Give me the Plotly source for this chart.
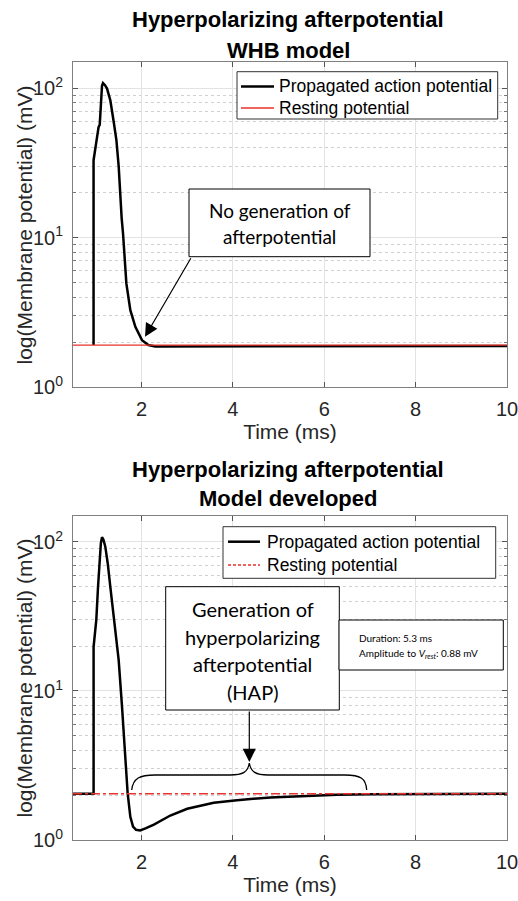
import plotly.graph_objects as go
import math

# ---------------- data ----------------
# WHB model (top)
t_whb = [0.95, 0.95, 0.975, 1.01, 1.06, 1.085, 1.09, 1.113, 1.135, 1.157, 1.2, 1.245,
         1.317, 1.39, 1.45, 1.5, 1.53, 1.565, 1.595, 1.668, 1.755, 1.865, 2.01, 2.15,
         2.3, 2.8, 4.0, 6.0, 8.0, 10.0]
v_whb = [1.91, 33, 37, 45, 55, 57, 62, 92, 104, 108.5, 105, 99.6,
         83, 60, 45, 30, 20, 13.5, 10.7, 4.94, 3.27, 2.53, 2.06, 1.91,
         1.87, 1.87, 1.88, 1.88, 1.88, 1.88]
rest_whb_t = [0.5, 10.0]
rest_whb_v = [1.91, 1.91]

# Developed model (bottom)
t_dev = [0.5, 0.951, 0.951, 0.973, 1.01, 1.048, 1.083, 1.11, 1.135, 1.165, 1.207, 1.26,
         1.317, 1.39, 1.45, 1.5, 1.573, 1.646, 1.683, 1.696, 1.755, 1.814, 1.88, 1.97,
         2.1, 2.27, 2.63, 3.0, 3.58, 4.09, 4.82, 5.55, 6.28, 7.0, 8.0, 10.0]
v_dev = [2.04, 2.04, 19.8, 23.1, 30, 50, 75.7, 98, 107.5, 104, 93, 72,
         50, 33, 22, 16.1, 7.85, 3.82, 2.53, 2.06, 1.43, 1.23, 1.17, 1.16,
         1.2, 1.27, 1.46, 1.62, 1.78, 1.85, 1.93, 1.98, 2.01, 2.03, 2.04, 2.04]
rest_dev_t = [0.5, 10.0]
rest_dev_v = [2.04, 2.04]

x_ticks = [2, 4, 6, 8, 10]
y_ticks = [1, 10, 100]
y_ticktext = ["10<sup>0</sup>", "10<sup>1</sup>", "10<sup>2</sup>"]
y_minor = [2, 3, 4, 5, 6, 7, 8, 9, 20, 30, 40, 50, 60, 70, 80, 90]

series_names = ["Propagated action potential", "Resting potential"]

# ---------------- layout geometry ----------------
W, H = 518, 901
ML, MR, MT, MB = 73, 11, 62, 61
PW = W - ML - MR
PH = H - MT - MB


def px(x):
    return (x - ML) / PW


def py(y):
    return (H - MB - y) / PH


FONT = "Liberation Sans"
CAL = "Lato"
RED = "#e8322b"

fig = go.Figure()

fig.add_trace(go.Scatter(x=t_whb, y=v_whb, mode="lines", name=series_names[0], showlegend=False,
                         line=dict(color="black", width=2.5), xaxis="x", yaxis="y"))
fig.add_trace(go.Scatter(x=rest_whb_t, y=rest_whb_v, mode="lines", name=series_names[1], showlegend=False,
                         line=dict(color=RED, width=1.2), xaxis="x", yaxis="y"))

fig.add_trace(go.Scatter(x=t_dev, y=v_dev, mode="lines", name=series_names[0], showlegend=False,
                         line=dict(color="black", width=2.5), xaxis="x2", yaxis="y2"))
fig.add_trace(go.Scatter(x=rest_dev_t, y=rest_dev_v, mode="lines", name=series_names[1], showlegend=False,
                         line=dict(color=RED, width=1.5, dash="dashdot"), xaxis="x2", yaxis="y2"))

top_dom = [py(387), 1.0]
bot_dom = [0.0, py(515.7)]

axis_common = dict(
    range=[0.5, 10], tickvals=x_ticks, showgrid=True, gridcolor="#e3e3e3", gridwidth=1,
    ticks="inside", ticklen=5, tickcolor="#555", mirror="allticks", showline=True,
    linecolor="#7f7f7f", linewidth=1, zeroline=False,
    tickfont=dict(size=20, family=FONT, color="#262626"),
    ticklabelstandoff=4, ticklabeloverflow="allow",
    title=dict(text="Time (ms)", font=dict(size=21, family=FONT, color="#262626"), standoff=4),
)
yaxis_common = dict(
    type="log", range=[0, math.log10(150)], tickvals=y_ticks, ticktext=y_ticktext,
    showgrid=True, gridcolor="#e3e3e3", gridwidth=1,
    ticks="inside", ticklen=5, tickcolor="#555", mirror="allticks", showline=True,
    linecolor="#7f7f7f", linewidth=1, zeroline=False,
    tickfont=dict(size=20, family=FONT, color="#262626"),
    ticklabelstandoff=5, ticklabeloverflow="allow",
    minor=dict(tickvals=y_minor, showgrid=True, griddash="dot", gridcolor="#d0d0d0",
               ticks="inside", ticklen=3, tickcolor="#777"),
)

fig.update_layout(
    width=W, height=H,
    margin=dict(l=ML, r=MR, t=MT, b=MB, autoexpand=False),
    paper_bgcolor="white", plot_bgcolor="white",
    font=dict(family=FONT, color="black"),
    xaxis=dict(domain=[0, 1], anchor="y", **axis_common),
    yaxis=dict(domain=top_dom, anchor="x", **yaxis_common),
    xaxis2=dict(domain=[0, 1], anchor="y2", **axis_common),
    yaxis2=dict(domain=bot_dom, anchor="x2", **yaxis_common),
    showlegend=False,
)

shapes = []
annotations = []

# titles
for txt, yy in [("Hyperpolarizing afterpotential", 19), ("WHB model", 50),
                ("Hyperpolarizing afterpotential", 469), ("Model developed", 499)]:
    annotations.append(dict(text="<b>%s</b>" % txt, x=px(288), y=py(yy), xref="paper", yref="paper",
                            showarrow=False, xanchor="center", yanchor="middle",
                            font=dict(size=22, family=FONT, color="black")))

# y axis titles
for yy in [225, 678]:
    annotations.append(dict(text="log(Membrane potential) (mV)", x=px(23.5), y=py(yy), xref="paper",
                            yref="paper", showarrow=False, textangle=-90, xanchor="center",
                            yanchor="middle", font=dict(size=21, family=FONT, color="#262626")))

# legends (drawn manually for exact spacing)
def legend_box(x0, x1, y0, y1, sx0, sx1, tx, rows, red_dash, red_w):
    shapes.append(dict(type="rect", xref="paper", yref="paper", x0=px(x0), x1=px(x1), y0=py(y1), y1=py(y0),
                       line=dict(color="#333", width=1), fillcolor="white", layer="above"))
    shapes.append(dict(type="line", xref="paper", yref="paper", x0=px(sx0), x1=px(sx1), y0=py(rows[0]),
                       y1=py(rows[0]), line=dict(color="black", width=2.5), layer="above"))
    shapes.append(dict(type="line", xref="paper", yref="paper", x0=px(sx0), x1=px(sx1), y0=py(rows[1]),
                       y1=py(rows[1]), line=dict(color=RED, width=red_w, dash=red_dash), layer="above"))
    for name, yy in zip(series_names, rows):
        annotations.append(dict(text=name, x=px(tx), y=py(yy), xref="paper", yref="paper", showarrow=False,
                                xanchor="left", yanchor="middle",
                                font=dict(size=17.5, family=FONT, color="black")))


legend_box(237, 497.7, 71.7, 119, 241, 274, 276.5, [86.5, 108], "solid", 1.5)
legend_box(223, 495.7, 526.7, 578.3, 228, 260, 264.5, [541.7, 565], "3px,2px", 1.3)

# top annotation box
shapes.append(dict(type="rect", xref="paper", yref="paper", x0=px(189), x1=px(370), y0=py(256.7), y1=py(189),
                   line=dict(color="black", width=1), fillcolor="white", layer="above"))
for txt, yy in [("No generation of", 211), ("afterpotential", 237)]:
    annotations.append(dict(text=txt, x=px(279.5), y=py(yy), xref="paper", yref="paper", showarrow=False,
                            xanchor="center", yanchor="middle", font=dict(size=19, family=CAL, color="black")))
annotations.append(dict(text="", x=px(145), y=py(336.7), xref="paper", yref="paper", showarrow=True,
                        ax=191.7 - 145, ay=256.7 - 336.7, arrowhead=2, arrowsize=2.2, arrowwidth=1.2,
                        arrowcolor="black"))

# bottom annotation box
shapes.append(dict(type="rect", xref="paper", yref="paper", x0=px(165.7), x1=px(339.3), y0=py(710), y1=py(586.7),
                   line=dict(color="black", width=1), fillcolor="white", layer="above"))
for txt, yy in [("Generation of", 609), ("hyperpolarizing", 637), ("afterpotential", 664), ("(HAP)", 692)]:
    annotations.append(dict(text=txt, x=px(252.5), y=py(yy), xref="paper", yref="paper", showarrow=False,
                            xanchor="center", yanchor="middle", font=dict(size=20, family=CAL, color="black")))
annotations.append(dict(text="", x=px(249.3), y=py(762), xref="paper", yref="paper", showarrow=True,
                        ax=0, ay=710 - 762, arrowhead=2, arrowsize=2.2, arrowwidth=1.2, arrowcolor="black"))

# brace
pts = [("M", [(131.7, 790)]),
       ("C", [(133, 778), (140, 775), (155, 775)]),
       ("L", [(230, 775)]),
       ("C", [(243, 775), (248, 772), (249.3, 763)]),
       ("C", [(250.7, 772), (256, 775), (268, 775)]),
       ("L", [(345, 775)]),
       ("C", [(360, 775), (366, 778), (366.7, 790)])]
path = " ".join(cmd + " " + " ".join("%.5f,%.5f" % (px(a), py(b)) for a, b in p) for cmd, p in pts)
shapes.append(dict(type="path", xref="paper", yref="paper", path=path,
                   line=dict(color="black", width=1.3), layer="above"))

# small info box
shapes.append(dict(type="rect", xref="paper", yref="paper", x0=px(339), x1=px(503.3), y0=py(670), y1=py(620),
                   line=dict(color="black", width=1), fillcolor="white", layer="above"))
annotations.append(dict(text="Duration: 5.3 ms", x=px(356.5), y=py(638), xref="paper", yref="paper",
                        showarrow=False, xanchor="left", yanchor="middle",
                        font=dict(size=10, family=CAL, color="black")))
annotations.append(dict(text="Amplitude to <i>V</i><sub><i>rest</i></sub>: 0.88 mV", x=px(356.5), y=py(653),
                        xref="paper", yref="paper", showarrow=False, xanchor="left", yanchor="middle",
                        font=dict(size=10, family=CAL, color="black")))

fig.update_layout(shapes=shapes, annotations=annotations)

fig.write_html("out.html")
